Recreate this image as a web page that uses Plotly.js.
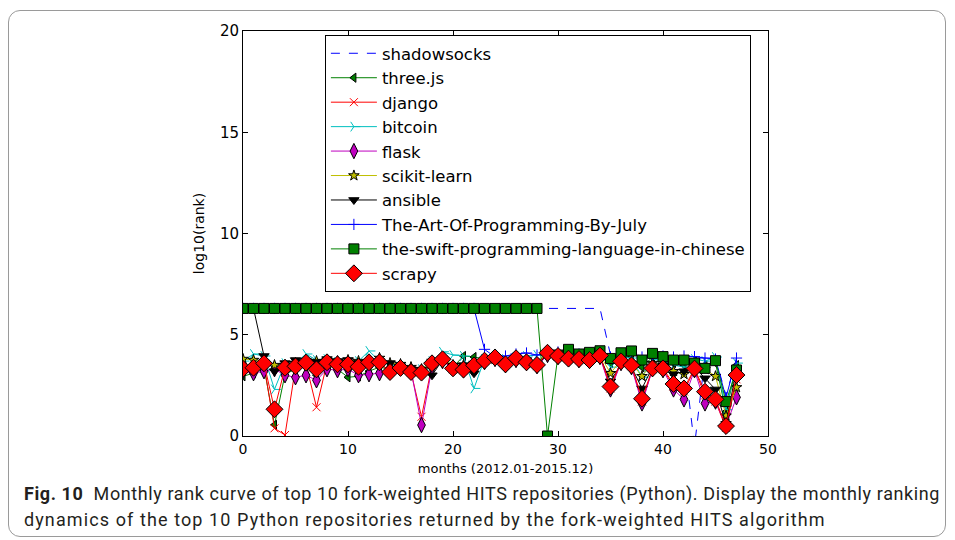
<!DOCTYPE html>
<html>
<head>
<meta charset="utf-8">
<script src="https://cdn.plot.ly/plotly-3.0.1.min.js"></script>
<style>
html,body{margin:0;padding:0;background:#fff;}
#wrap{position:relative;width:955px;height:540px;}
#chart{width:955px;height:540px;}
#frame{position:absolute;left:8px;top:10px;width:938px;height:527px;border:1px solid #9a9a9a;border-radius:12px;pointer-events:none;box-sizing:border-box;}
#chart .annotation .annotation-text{letter-spacing:0.6px;}
#chart .annotation[data-index="1"] .annotation-text{letter-spacing:1.1px;}
</style>
</head>
<body>
<div id="wrap"><div id="chart"></div><div id="frame"></div></div>
<script>
const months = [0,1,2,3,4,5,6,7,8,9,10,11,12,13,14,15,16,17,18,19,20,21,22,23,24,25,26,27,28,29,30,31,32,33,34,35,36,37,38,39,40,41,42,43,44,45,46,47];

const shadowsocks = [6.3,6.3,6.3,6.3,6.3,6.3,6.3,6.3,6.3,6.3,6.3,6.3,6.3,6.3,6.3,6.3,6.3,6.3,6.3,6.3,6.3,6.3,6.3,6.3,6.3,6.3,6.3,6.3,6.3,6.3,6.3,6.3,6.3,6.3,6.3,4.0,4.0,4.05,3.95,4.0,3.95,3.9,3.9,-0.5,3.9,3.85,2.0,3.8];
const threejs = [2.95,3.1,3.4,0.55,3.05,3.3,3.5,3.0,3.5,3.3,2.9,2.95,3.2,3.4,3.3,3.35,3.2,3.1,3.5,3.8,3.4,3.95,3.9,3.8,3.8,3.6,3.85,3.75,3.6,4.15,4.0,3.9,3.9,3.85,4.05,3.6,3.95,3.9,3.4,3.9,3.8,3.6,3.5,3.7,3.5,3.6,1.2,3.5];
const django = [3.4,3.3,3.5,0.38,0.05,3.4,3.55,1.42,3.6,3.5,3.45,3.35,3.55,3.6,3.2,3.3,3.15,0.95,3.5,3.75,3.3,3.25,3.45,3.7,3.85,3.5,3.8,3.6,3.45,4.05,3.9,3.8,3.75,3.7,3.95,2.35,3.65,3.45,1.7,3.3,3.3,2.45,2.2,3.3,2.0,1.7,0.4,2.8];
const bitcoin = [3.7,4.05,3.95,2.3,3.6,3.6,4.05,3.75,3.8,3.65,3.6,3.7,4.2,3.7,3.5,3.4,3.2,3.3,3.7,4.16,4.0,3.95,2.35,3.8,3.9,3.8,3.9,3.95,4.0,4.05,4.0,3.95,3.9,3.85,4.0,3.4,3.9,3.85,2.9,3.8,3.7,3.5,3.4,3.8,3.7,3.9,1.3,3.6];
const flask = [3.2,3.1,3.2,3.3,3.0,2.9,3.0,2.75,3.3,3.25,3.3,3.0,3.05,3.1,3.3,3.35,3.25,0.54,3.4,3.7,3.35,3.25,3.5,3.65,3.8,3.5,3.75,3.6,3.45,4.0,3.9,3.8,3.75,3.7,3.9,2.3,3.6,3.4,1.61,3.3,3.25,2.3,1.81,3.25,1.61,1.7,0.5,1.91];
const scikitLearn = [3.8,3.75,3.65,3.5,3.5,3.6,3.75,3.7,3.75,3.7,3.75,3.7,3.6,3.85,3.6,3.55,3.4,3.3,3.7,3.85,3.5,3.5,3.6,3.75,3.8,3.6,3.85,3.7,3.6,4.1,3.95,3.9,3.85,3.8,4.0,3.1,3.75,3.6,2.95,3.6,3.5,3.2,3.05,3.5,3.3,2.95,1.0,2.4];
const ansible = [6.3,6.3,3.95,3.2,3.6,3.75,3.7,3.65,3.8,3.7,3.75,3.6,3.65,3.7,3.6,3.45,3.3,3.2,3.0,3.75,3.45,3.5,3.1,3.7,3.75,3.35,3.75,3.75,3.5,4.05,3.9,3.85,3.85,3.8,3.9,2.7,3.55,3.4,2.35,3.4,3.5,3.05,3.2,3.4,2.85,2.3,0.6,3.3];
const artOfProgramming = [6.3,6.3,6.3,6.3,6.3,6.3,6.3,6.3,6.3,6.3,6.3,6.3,6.3,6.3,6.3,6.3,6.3,6.3,6.3,6.3,6.3,6.3,6.3,4.28,3.9,3.95,4.05,4.1,4.0,4.1,4.15,4.1,4.05,4.0,4.1,3.9,4.0,4.05,3.9,4.0,3.95,3.9,3.95,3.92,3.85,3.8,1.9,3.85];
const swiftChinese = [6.3,6.3,6.3,6.3,6.3,6.3,6.3,6.3,6.3,6.3,6.3,6.3,6.3,6.3,6.3,6.3,6.3,6.3,6.3,6.3,6.3,6.3,6.3,6.3,6.3,6.3,6.3,6.3,6.3,0,4.0,4.28,4.05,4.13,4.21,3.83,4.11,4.2,3.75,4.08,3.92,3.75,3.75,3.6,3.34,3.72,1.7,3.26];
const scrapy = [3.32,3.37,3.59,1.32,3.37,3.44,3.62,3.29,3.64,3.54,3.54,3.42,3.64,3.64,3.16,3.36,3.16,3.13,3.59,3.79,3.34,3.28,3.49,3.72,3.88,3.54,3.84,3.64,3.51,4.11,3.95,3.82,3.80,3.75,3.97,2.44,3.69,3.49,1.84,3.34,3.34,2.57,2.35,3.33,2.19,1.81,0.49,3.01];

const xTicks = [0,10,20,30,40,50];
const yTicks = [0,5,10,15,20];

const series = [
  {name:'shadowsocks', y:shadowsocks, line:{color:'#0000ff',width:1,dash:'dash'}, mode:'lines'},
  {name:'three.js', y:threejs, line:{color:'#008000',width:1}, mode:'lines+markers', marker:{symbol:'triangle-left',size:8,color:'#008000',line:{color:'#000',width:1}}},
  {name:'django', y:django, line:{color:'#ff0000',width:1}, mode:'lines+markers', marker:{symbol:'x-thin-open',size:8,color:'#ff0000',line:{color:'#ff0000',width:1}}},
  {name:'bitcoin', y:bitcoin, line:{color:'#00bfbf',width:1}, mode:'lines+markers', marker:{symbol:'y-right-open',size:8,color:'#00bfbf',line:{color:'#00bfbf',width:1}}},
  {name:'flask', y:flask, line:{color:'#bf00bf',width:1}, mode:'lines+markers', marker:{symbol:'diamond-tall',size:11,color:'#bf00bf',line:{color:'#000',width:1}}},
  {name:'scikit-learn', y:scikitLearn, line:{color:'#bfbf00',width:1}, mode:'lines+markers', marker:{symbol:'star',size:8,color:'#bfbf00',line:{color:'#000',width:1}}},
  {name:'ansible', y:ansible, line:{color:'#000000',width:1}, mode:'lines+markers', marker:{symbol:'triangle-down',size:9,color:'#000',line:{color:'#000',width:1}}},
  {name:'The-Art-Of-Programming-By-July', y:artOfProgramming, line:{color:'#0000ff',width:1}, mode:'lines+markers', marker:{symbol:'cross-thin-open',size:8,color:'#0000ff',line:{color:'#0000ff',width:1}}},
  {name:'the-swift-programming-language-in-chinese', y:swiftChinese, line:{color:'#008000',width:1}, mode:'lines+markers', marker:{symbol:'square',size:10,color:'#008000',line:{color:'#000',width:1}}},
  {name:'scrapy', y:scrapy, line:{color:'#ff0000',width:1}, mode:'lines+markers', marker:{symbol:'diamond',size:13,color:'#ff0000',line:{color:'#000',width:1}}}
];

const traces = series.map((s,i)=>Object.assign({type:'scatter', x:months, cliponaxis:true}, s));

const font = {family:'DejaVu Sans, sans-serif', color:'#000', size:15};
const capFont = 'Roboto, sans-serif';

const layout = {
  width:955, height:540,
  margin:{l:243, r:187, t:31, b:104},
  paper_bgcolor:'#fff', plot_bgcolor:'#fff',
  font:font,
  showlegend:true,
  legend:{x:0.156, y:0.99, xanchor:'left', yanchor:'top', bgcolor:'#fff', bordercolor:'#000', borderwidth:1,
          font:{family:'DejaVu Sans, sans-serif', size:16.5, color:'#000'}, traceorder:'normal', itemwidth:46},
  xaxis:{range:[0,50], tickvals:xTicks, ticktext:xTicks.map(String), ticks:'inside', ticklen:5, tickcolor:'#000',
         showline:true, linecolor:'#000', linewidth:1, mirror:'ticks', showgrid:false, zeroline:false,
         tickfont:{family:'DejaVu Sans, sans-serif', size:14},
         title:{text:'months (2012.01-2015.12)', font:{family:'DejaVu Sans, sans-serif', size:13}, standoff:8}},
  yaxis:{range:[0,20], tickvals:yTicks, ticktext:yTicks.map(String), ticks:'inside', ticklen:5, tickcolor:'#000',
         showline:true, linecolor:'#000', linewidth:1, mirror:'ticks', showgrid:false, zeroline:false,
         tickfont:{family:'DejaVu Sans, sans-serif', size:15},
         title:{text:'log10(rank)', font:{family:'DejaVu Sans, sans-serif', size:14}, standoff:12}},
  annotations:[
    {xref:'paper', yref:'paper', x:(22-243)/525, y:(436-494)/405, xanchor:'left', yanchor:'middle', showarrow:false, align:'left',
     text:'<b>Fig. 10</b>  Monthly rank curve of top 10 fork-weighted HITS repositories (Python). Display the monthly ranking',
     font:{family:capFont, size:18, color:'#231f20'}},
    {xref:'paper', yref:'paper', x:(22-243)/525, y:(436-519)/405, xanchor:'left', yanchor:'middle', showarrow:false, align:'left',
     text:'dynamics of the top 10 Python repositories returned by the fork-weighted HITS algorithm',
     font:{family:capFont, size:18, color:'#231f20'}}
  ]
};

Plotly.newPlot('chart', traces, layout, {displayModeBar:false, staticPlot:true});
</script>
</body>
</html>
